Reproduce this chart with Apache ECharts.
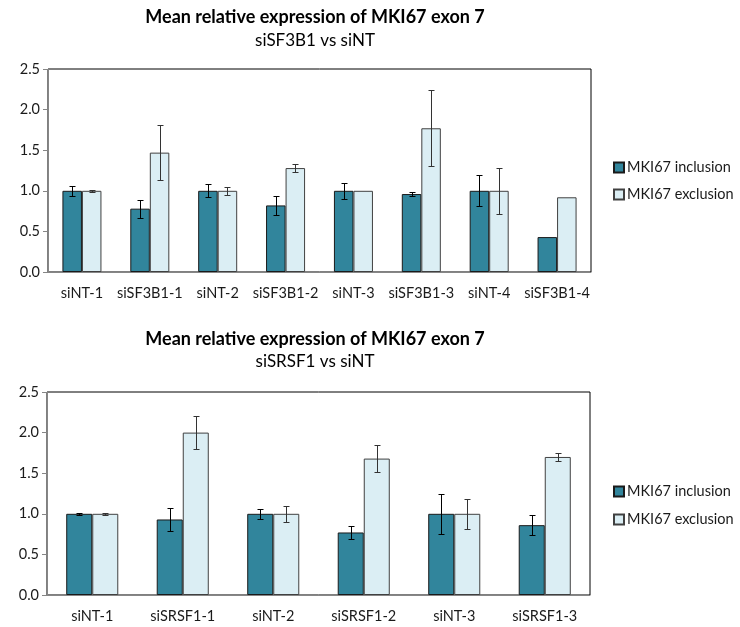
<!DOCTYPE html>
<html>
<head>
<meta charset="utf-8">
<script src="https://cdn.jsdelivr.net/npm/echarts@6/dist/echarts.min.js"></script>
<style>
  html, body { margin: 0; padding: 0; background: #fff; }
  #chart { width: 740px; height: 627px; }
</style>
</head>
<body>
<div id="chart"></div>
<script>
// siSF3B1 knockdown panel
const catsA = ['siNT-1', 'siSF3B1-1', 'siNT-2', 'siSF3B1-2', 'siNT-3', 'siSF3B1-3', 'siNT-4', 'siSF3B1-4'];
const inclA = [1.00, 0.78, 1.00, 0.82, 1.00, 0.96, 1.00, 0.43];
const inclErrA = [0.06, 0.11, 0.08, 0.12, 0.10, 0.025, 0.19, 0];
const exclA = [1.00, 1.47, 1.00, 1.28, 1.00, 1.77, 1.00, 0.92];
const exclErrA = [0.015, 0.335, 0.05, 0.05, 0, 0.47, 0.285, 0];

// siSRSF1 knockdown panel
const catsB = ['siNT-1', 'siSRSF1-1', 'siNT-2', 'siSRSF1-2', 'siNT-3', 'siSRSF1-3'];
const inclB = [1.00, 0.93, 1.00, 0.77, 1.00, 0.86];
const inclErrB = [0.015, 0.145, 0.06, 0.075, 0.25, 0.12];
const exclB = [1.00, 2.00, 1.00, 1.68, 1.00, 1.70];
const exclErrB = [0.01, 0.20, 0.095, 0.17, 0.185, 0.05];

const seriesNames = ['MKI67 inclusion', 'MKI67 exclusion'];

const FONT = 'Lato';
const CAT_GAP = 0.425;
const colIncl = '#31859C';
const colExcl = '#DBEEF4';

function errorBars(axisIdx, means, errs, side, color) {
  return {
    type: 'custom',
    xAxisIndex: axisIdx,
    yAxisIndex: axisIdx,
    silent: true,
    z: 10,
    encode: { x: 0, y: 1 },
    data: means.map((m, i) => [i, m, errs[i]]),
    renderItem(params, api) {
      const i = api.value(0), m = api.value(1), e = api.value(2);
      if (!e) return null;
      const bw = api.size([1, 0])[0] * (1 - CAT_GAP) / 2;
      const x = Math.round(api.coord([i, m])[0] + side * bw / 2) + 0.5;
      const top = Math.round(api.coord([i, m + e])[1]) + 0.5;
      const bot = Math.round(api.coord([i, m - e])[1]) + 0.5;
      const cap = 3;
      const st = { stroke: color, lineWidth: 1 };
      return {
        type: 'group',
        children: [
          { type: 'line', shape: { x1: x, y1: top, x2: x, y2: bot }, style: st },
          { type: 'line', shape: { x1: x - cap, y1: top, x2: x + cap, y2: top }, style: st },
          { type: 'line', shape: { x1: x - cap, y1: bot, x2: x + cap, y2: bot }, style: st }
        ]
      };
    }
  };
}

function barSeries(axisIdx, name, data, color, border) {
  return {
    type: 'bar',
    name,
    xAxisIndex: axisIdx,
    yAxisIndex: axisIdx,
    data,
    barGap: '0%',
    barCategoryGap: (CAT_GAP * 100) + '%',
    itemStyle: { color, borderColor: border, borderWidth: 1 },
    emphasis: { disabled: true },
    animation: false
  };
}

function xAxis(gridIndex, cats) {
  return {
    type: 'category',
    gridIndex,
    data: cats,
    axisLine: { lineStyle: { color: '#868686' } },
    axisTick: { alignWithLabel: false, length: 5, lineStyle: { color: '#868686' } },
    axisLabel: { color: '#1a1a1a', fontFamily: FONT, fontSize: 14.5, margin: 14, interval: 0 }
  };
}

function yAxis(gridIndex) {
  return {
    type: 'value',
    gridIndex,
    min: 0,
    max: 2.5,
    interval: 0.5,
    axisLine: { show: true, lineStyle: { color: '#868686' } },
    axisTick: { show: true, length: 5, lineStyle: { color: '#868686' } },
    splitLine: { show: false },
    axisLabel: {
      color: '#1a1a1a', fontFamily: FONT, fontSize: 14.5, margin: 8,
      formatter: v => v.toFixed(1)
    }
  };
}

function legend(top, gap) {
  return {
    data: seriesNames,
    orient: 'vertical',
    left: 608,
    top,
    itemWidth: 10,
    itemHeight: 10,
    itemGap: gap,
    icon: 'rect',
    selectedMode: false,
    textStyle: { fontFamily: FONT, fontSize: 14.5, color: '#1a1a1a', padding: [0, 0, 0, -2] }
  };
}

const titleStyle = { fontFamily: FONT, fontSize: 18, fontWeight: 'bold', color: '#000' };
const subStyle = { fontFamily: FONT, fontSize: 17, fontWeight: 'normal', color: '#000' };

const chart = echarts.init(document.getElementById('chart'), null, { renderer: 'canvas' });
chart.setOption({
  animation: false,
  backgroundColor: '#fff',
  title: [
    { text: 'Mean relative expression of MKI67 exon 7', left: 310, top: 3, textAlign: 'center', textStyle: titleStyle },
    { text: 'siSF3B1 vs siNT', left: 310, top: 27, textAlign: 'center', textStyle: subStyle },
    { text: 'Mean relative expression of MKI67 exon 7', left: 310, top: 325, textAlign: 'center', textStyle: titleStyle },
    { text: 'siSRSF1 vs siNT', left: 310, top: 348, textAlign: 'center', textStyle: subStyle }
  ],
  legend: [legend(155, 12), legend(479, 13)],
  grid: [
    { left: 48, top: 69, width: 543, height: 203, show: true, borderColor: '#000', borderWidth: 1, backgroundColor: 'transparent' },
    { left: 47, top: 392, width: 543, height: 203, show: true, borderColor: '#000', borderWidth: 1, backgroundColor: 'transparent' }
  ],
  xAxis: [xAxis(0, catsA), xAxis(1, catsB)],
  yAxis: [yAxis(0), yAxis(1)],
  series: [
    barSeries(0, seriesNames[0], inclA, colIncl, '#1a1a1a'),
    barSeries(0, seriesNames[1], exclA, colExcl, '#404040'),
    errorBars(0, inclA, inclErrA, -1, '#000'),
    errorBars(0, exclA, exclErrA, 1, '#333'),
    barSeries(1, seriesNames[0], inclB, colIncl, '#1a1a1a'),
    barSeries(1, seriesNames[1], exclB, colExcl, '#404040'),
    errorBars(1, inclB, inclErrB, -1, '#000'),
    errorBars(1, exclB, exclErrB, 1, '#333')
  ]
});
</script>
</body>
</html>
